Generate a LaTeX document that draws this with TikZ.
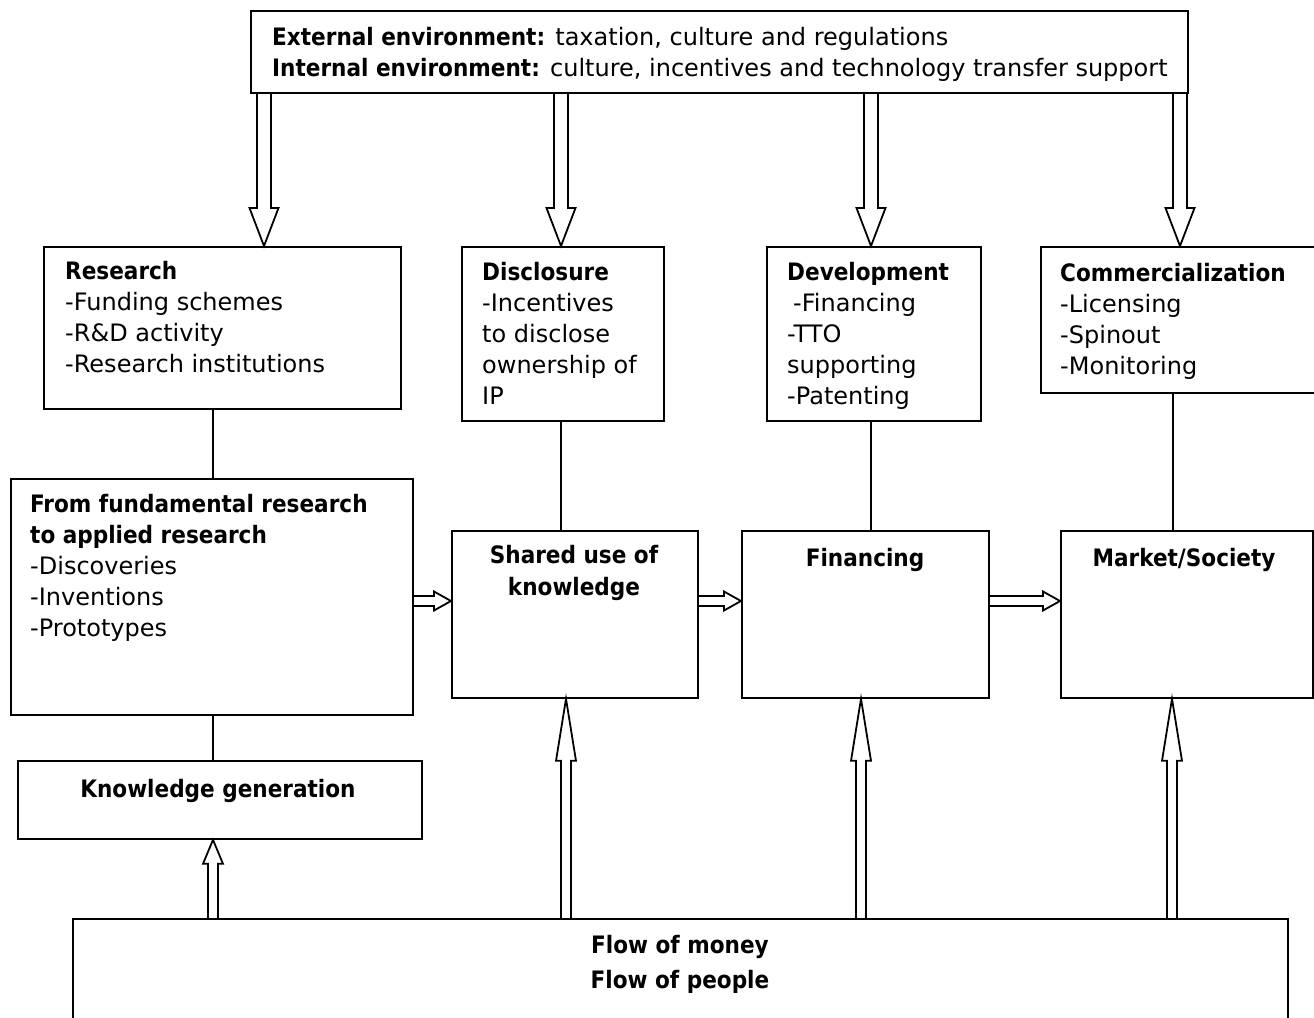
\documentclass[tikz,border=0pt]{standalone}
\usepackage{fontspec}
\setmainfont{DejaVu Sans}[BoldFont={DejaVu Sans Condensed Bold}]
\usetikzlibrary{calc,positioning}

\tikzset{
	box/.style={draw, line width=1.8pt, inner sep=0pt, anchor=north west},
	txt/.style={inner sep=0pt, anchor=north west, align=left, font=\fontsize{24}{31}\selectfont},
	ctxt/.style={inner sep=0pt, anchor=north, align=center, font=\fontsize{24}{32}\selectfont\bfseries},
	link/.style={line width=1.6pt},
	hollow/.style={line width=1.8pt, line join=miter}
}

% hollow block arrow: start, tip, shaft half width, head half width, head length
\newcommand{\fatarrow}[5]{%
	\path ($(#2)!#5!(#1)$) coordinate (hb);
	\draw[hollow] ($(#1)!#3!90:(#2)$) -- ($(hb)!#3!90:(#2)$) -- ($(hb)!#4!90:(#2)$) -- (#2)
		-- ($(hb)!#4!-90:(#2)$) -- ($(hb)!#3!-90:(#2)$) -- ($(#1)!#3!-90:(#2)$);
}

\begin{document}
\begin{tikzpicture}[x=1pt, y=-1pt]
\clip (0,0) rectangle (1314,1017);
\fill[white] (0,0) rectangle (1314,1017);

% environment
\node [box, minimum width=937pt, minimum height=82pt] (env) at (250,10) {};
\node [txt] (envtxt) at (272,27) {\textbf{External environment:} taxation, culture and regulations\\
	\textbf{Internal environment:} culture, incentives and technology transfer support};

% first row
\node [box, minimum width=357pt, minimum height=162pt] (research) at (43,246) {};
\node [txt] (researchtxt) at (65,261) {\textbf{Research}\\-Funding schemes\\-R\&D activity\\-Research institutions};
\node [box, minimum width=202pt, minimum height=174pt] (disclosure) at (461,246) {};
\node [txt] (disclosuretxt) at (482,262) {\textbf{Disclosure}\\-Incentives\\to disclose\\ownership of\\IP};
\node [box, minimum width=214pt, minimum height=174pt] (development) at (766,246) {};
\node [txt] (developmenttxt) at (787,262) {\textbf{Development}\\\hspace*{6pt}-Financing\\-TTO\\supporting\\-Patenting};
\node [box, minimum width=300pt, minimum height=146pt] (commerc) at (1040,246) {};
\node [txt] (commerctxt) at (1060,263) {\textbf{Commercialization}\\-Licensing\\-Spinout\\-Monitoring};

% second row
\node [box, minimum width=402pt, minimum height=236pt] (fund) at (10,478) {};
\node [txt] (fundtxt) at (30,494) {\textbf{From fundamental research}\\\textbf{to applied research}\\-Discoveries\\-Inventions\\-Prototypes};
\node [box, minimum width=246pt, minimum height=167pt] (shared) at (451,530) {};
\node [ctxt] (sharedtxt) at (574,545) {Shared use of\\knowledge};
\node [box, minimum width=247pt, minimum height=167pt] (financing) at (741,530) {};
\node [ctxt] (financingtxt) at (865,548) {Financing};
\node [box, minimum width=252pt, minimum height=167pt] (market) at (1060,530) {};
\node [ctxt] (markettxt) at (1184,548) {Market/Society};

% bottom
\node [box, minimum width=404pt, minimum height=78pt] (kgen) at (17,760) {};
\node [ctxt] (kgentxt) at (218,779) {Knowledge generation};
\node [box, minimum width=1215pt, minimum height=140pt] (flow) at (72,918) {};
\node [ctxt, font=\fontsize{24}{35}\selectfont\bfseries] (flowtxt) at (680,935) {Flow of money\\Flow of people};

% plain links
\draw[link] (213,0 |- research.south) -- (213,0 |- fund.north);
\draw[link] (213,0 |- fund.south) -- (213,0 |- kgen.north);
\draw[link] (561,0 |- disclosure.south) -- (561,0 |- shared.north);
\draw[link] (871,0 |- development.south) -- (871,0 |- financing.north);
\draw[link] (1173,0 |- commerc.south) -- (1173,0 |- market.north);

% arrows down from the environment
\fatarrow{264,0 |- env.south}{264,0 |- research.north}{7pt}{14.5pt}{38pt}
\fatarrow{561,0 |- env.south}{561,0 |- disclosure.north}{7pt}{14.5pt}{38pt}
\fatarrow{871,0 |- env.south}{871,0 |- development.north}{7pt}{14.5pt}{38pt}
\fatarrow{1180,0 |- env.south}{1180,0 |- commerc.north}{7pt}{14.5pt}{38pt}

% arrows along the chain
\fatarrow{fund.east |- 0,601}{shared.west |- 0,601}{5pt}{9.5pt}{17pt}
\fatarrow{shared.east |- 0,601}{financing.west |- 0,601}{5pt}{9.5pt}{17pt}
\fatarrow{financing.east |- 0,601}{market.west |- 0,601}{5pt}{9.5pt}{17pt}

% arrows up from the flows
\fatarrow{213,0 |- flow.north}{213,0 |- kgen.south}{5pt}{10pt}{24pt}
\fatarrow{566,0 |- flow.north}{566,0 |- shared.south}{5pt}{10pt}{62pt}
\fatarrow{861,0 |- flow.north}{861,0 |- financing.south}{5pt}{10pt}{62pt}
\fatarrow{1172,0 |- flow.north}{1172,0 |- market.south}{5pt}{10pt}{62pt}
\end{tikzpicture}
\end{document}
